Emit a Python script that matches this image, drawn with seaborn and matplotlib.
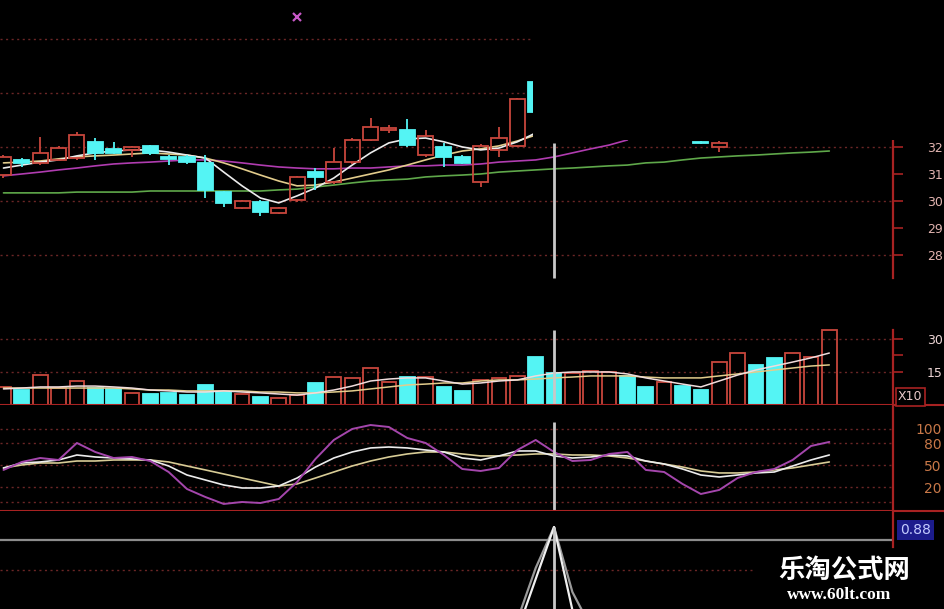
"""
K线 + 成交量 + KDJ 截图复刻 (乐淘公式网)
"""
import numpy as np
import seaborn as sns
import matplotlib.pyplot as plt
from matplotlib.patches import Rectangle

nan = np.nan

# ── 数据 ──
idx = list(range(46))

# K线: 只有露出来的几根 (开, 收, 高, 低)
k_idx = list(range(30)) + [38, 39]
k_open = [30.96, 31.52, 31.41, 31.52, 31.59, 32.19, 31.93, 31.89, 32.04, 31.63,
          31.63, 31.41, 30.33, 29.74, 29.96, 29.56, 30.04, 31.07, 30.70, 31.44,
          32.26, 32.63, 32.63, 31.70, 32.00, 31.63, 30.70, 31.89, 32.04, 34.41,
          32.19, 32.00]
k_close = [31.63, 31.41, 31.78, 31.96, 32.44, 31.78, 31.78, 32.00, 31.78, 31.56,
           31.44, 30.41, 29.93, 30.00, 29.59, 29.74, 30.89, 30.89, 31.44, 32.26,
           32.74, 32.70, 32.07, 32.41, 31.63, 31.41, 32.04, 32.33, 33.78, 33.30,
           32.15, 32.15]
k_high = [31.70, 31.59, 32.37, 32.04, 32.56, 32.33, 32.19, 32.04, 32.07, 31.70,
          31.70, 31.70, 30.37, 30.04, 30.04, 29.78, 30.93, 31.22, 31.96, 32.33,
          33.07, 32.81, 33.04, 32.63, 32.15, 31.70, 32.11, 32.74, 33.81, 34.96,
          32.22, 32.22]
k_low = [30.85, 31.26, 31.33, 31.48, 31.52, 31.52, 31.74, 31.63, 31.70, 31.33,
         31.37, 30.11, 29.78, 29.70, 29.44, 29.52, 29.96, 30.41, 30.63, 31.37,
         32.22, 32.52, 32.00, 31.63, 31.26, 31.37, 30.52, 31.63, 32.00, 33.26,
         32.11, 31.81]

ma5 = [31.22, 31.33, 31.44, 31.52, 31.67, 31.78, 31.85, 31.89, 31.89, 31.81,
       31.70, 31.59, 31.07, 30.56, 30.11, 29.93, 30.19, 30.48, 30.85, 31.33,
       31.78, 32.15, 32.30, 32.33, 32.19, 32.00, 31.89, 31.96, 32.19, 32.52] + [nan] * 16
ma10 = [31.41, 31.44, 31.48, 31.56, 31.63, 31.67, 31.70, 31.74, 31.78, 31.74,
        31.70, 31.59, 31.41, 31.19, 30.96, 30.74, 30.56, 30.59, 30.70, 30.85,
        31.00, 31.15, 31.33, 31.52, 31.70, 31.85, 31.93, 32.04, 32.22, 32.44] + [nan] * 16
ma20 = [30.93, 31.00, 31.07, 31.15, 31.22, 31.30, 31.37, 31.41, 31.44, 31.48,
        31.52, 31.52, 31.48, 31.41, 31.33, 31.26, 31.22, 31.19, 31.19, 31.22,
        31.22, 31.26, 31.30, 31.30, 31.33, 31.33, 31.37, 31.44, 31.48, 31.52,
        31.63, 31.78, 31.93, 32.07, 32.26] + [nan] * 11
ma60 = [30.30, 30.30, 30.30, 30.30, 30.33, 30.33, 30.33, 30.33, 30.37, 30.37,
        30.37, 30.37, 30.37, 30.37, 30.37, 30.41, 30.44, 30.52, 30.59, 30.67,
        30.74, 30.78, 30.81, 30.89, 30.93, 30.96, 31.00, 31.07, 31.11, 31.15,
        31.19, 31.22, 31.26, 31.30, 31.33, 31.41, 31.44, 31.52, 31.59, 31.63,
        31.67, 31.70, 31.74, 31.78, 31.81, 31.85]
price_ticks = [32, 31, 30, 29, 28]
price_grid = [28, 30, 32, 34, 36]
mark_idx, mark_price = 16, 36.81

# 成交量
vol = [8.2, 6.8, 13.6, 7.7, 10.9, 7.7, 7.3, 5.5, 5.0, 5.5,
       4.5, 9.1, 5.9, 5.0, 3.6, 3.2, 4.5, 10.0, 12.7, 12.3,
       16.8, 10.5, 12.7, 12.7, 8.2, 6.4, 11.4, 12.3, 13.2, 21.8,
       14.5, 14.5, 15.5, 15.0, 13.2, 8.2, 10.5, 8.6, 6.8, 19.5,
       23.6, 18.2, 21.4, 23.6, 21.8, 34.1]
vol_up = [1, 0, 1, 1, 1, 0, 0, 1, 0, 0,
          0, 0, 0, 1, 0, 1, 1, 0, 1, 1,
          1, 1, 0, 1, 0, 0, 1, 1, 1, 0,
          0, 1, 1, 1, 0, 0, 1, 0, 0, 1,
          1, 0, 0, 1, 1, 1]
vol_ma5 = [7.3, 7.7, 8.2, 8.2, 8.6, 8.6, 8.2, 7.7, 6.8, 6.4,
           5.9, 5.9, 6.4, 5.9, 5.5, 5.0, 4.5, 5.5, 6.8, 8.6,
           10.9, 11.8, 12.3, 12.3, 10.9, 9.5, 10.0, 10.9, 11.4, 13.2,
           14.5, 15.0, 15.0, 15.0, 14.1, 12.3, 10.9, 9.5, 8.2, 10.9,
           13.6, 15.9, 17.7, 19.5, 21.4, 23.6]
vol_ma10 = [7.7, 7.7, 7.7, 7.7, 7.7, 7.7, 7.7, 7.3, 6.8, 6.8,
            6.4, 6.4, 6.4, 6.4, 5.9, 5.9, 5.5, 5.5, 5.9, 6.4,
            7.3, 8.2, 9.1, 9.5, 10.0, 10.0, 10.9, 11.4, 11.4, 11.8,
            12.3, 12.7, 13.2, 13.2, 13.2, 12.7, 12.3, 12.3, 12.3, 13.2,
            14.1, 15.0, 15.9, 16.8, 17.7, 18.2]
vol_ticks = [15, 22.5, 30]
vol_ticklabels = ["15", "", "30"]

# KDJ
kdj_j = [43.7, 54.6, 60.0, 57.3, 80.5, 68.2, 60.0, 61.4, 55.9, 40.9,
         17.7, 6.8, -2.7, 0.0, -1.4, 4.1, 27.3, 58.7, 84.6, 99.6,
         105.0, 102.3, 87.3, 80.5, 64.1, 45.0, 42.3, 46.4, 70.9, 84.6,
         68.2, 55.9, 57.3, 65.5, 68.2, 43.7, 40.9, 24.6, 10.9, 16.4,
         32.7, 40.9, 45.0, 57.3, 76.4, 81.9]
kdj_k = [46.4, 53.2, 54.6, 57.3, 64.1, 61.4, 60.0, 58.7, 57.3, 49.1,
         36.8, 30.0, 23.2, 19.1, 19.1, 21.8, 32.7, 47.7, 60.0, 68.2,
         73.7, 75.0, 73.7, 70.9, 68.2, 60.0, 57.3, 62.8, 69.6, 69.6,
         62.8, 60.0, 61.4, 64.1, 62.8, 55.9, 51.8, 45.0, 36.8, 34.1,
         36.8, 39.6, 40.9, 49.1, 57.3, 64.1]
kdj_d = [46.4, 50.5, 53.2, 53.2, 55.9, 55.9, 57.3, 57.3, 57.3, 54.6,
         49.1, 43.7, 38.2, 32.7, 27.3, 21.8, 24.6, 32.7, 40.9, 49.1,
         55.9, 61.4, 65.5, 68.2, 68.2, 65.5, 62.8, 62.8, 64.1, 65.5,
         65.5, 64.1, 64.1, 62.8, 60.0, 55.9, 51.8, 47.7, 42.3, 39.6,
         39.6, 40.9, 43.7, 46.4, 50.5, 54.6]
kdj_ticks = [20, 50, 80, 100]
kdj_grid = [0, 20, 50, 80, 100]

# 最下面的指标: 光标处一根尖峰
spike_a = [nan] * 28 + [-0.16, 0.36, 0.88, 0.05, -0.30] + [nan] * 13
spike_b = [nan] * 28 + [-0.05, 0.47, 0.88, 0.23, -0.12] + [nan] * 13
cursor_idx = 30
cursor_value = "0.88"

# ── 颜色 ──
BG = "black"
CYAN = "#54f4f4"
RED = "#c8463c"
AXRED = "#a82222"
GRID = "#6b2626"
WHITE = "#ececec"
TAN = "#e2cc8c"
PURPLE = "#b03cb0"
GREEN = "#5fa84a"
CURSOR = "#c8c8c8"

W, H = 945, 609
XLIM = (-0.19, 48.47)
RIGHT = 893 / W


def box(top_px, bot_px):
    return [0, (H - bot_px) / H, RIGHT, (bot_px - top_px) / H]


def style(ax, ylim):
    ax.set_facecolor(BG)
    ax.set_xlim(*XLIM)
    ax.set_ylim(*ylim)
    for s in ["top", "left", "bottom"]:
        ax.spines[s].set_visible(False)
    ax.spines["right"].set_color(AXRED)
    ax.spines["right"].set_linewidth(1.6)
    ax.yaxis.tick_right()
    ax.set_xticks([])
    ax.set_xlabel("")
    ax.set_ylabel("")


def dotted(ax, levels, x1=None):
    for lv in levels:
        ax.hlines(lv, XLIM[0], XLIM[1] if x1 is None else x1, color=GRID,
                  lw=1.0, linestyle=(0, (1.5, 2.5)), zorder=1)


sns.set_theme(style="dark", rc={"axes.facecolor": BG, "figure.facecolor": BG,
                                "axes.grid": False})
plt.rcParams["font.family"] = ["DejaVu Sans", "Noto Sans CJK SC"]

fig = plt.figure(figsize=(W / 100, H / 100), dpi=100, facecolor=BG)

# ── 主图 K线 ──
ax1 = fig.add_axes(box(0, 285))
style(ax1, (26.89, 37.44))
dotted(ax1, price_grid)
for name, arr, col in [("ma60", ma60, GREEN), ("ma20", ma20, PURPLE),
                       ("ma10", ma10, TAN), ("ma5", ma5, WHITE)]:
    sns.lineplot(x=idx, y=arr, ax=ax1, color=col, linewidth=1.2, zorder=3)

for i, o, c, h, l in zip(k_idx, k_open, k_close, k_high, k_low):
    up = c >= o
    col = RED if up else CYAN
    top, bot = max(o, c), min(o, c)
    ax1.bar(i, max(top - bot, 0.04), bottom=bot, width=0.82,
            color="none" if up else CYAN, edgecolor=col, linewidth=1.3, zorder=4)
    ax1.vlines(i, top, h, color=col, lw=1.3, zorder=4)
    ax1.vlines(i, l, bot, color=col, lw=1.3, zorder=4)

ax1.plot(mark_idx, mark_price, marker="x", color="#c858c8", ms=6, mew=1.6, zorder=5)
ax1.vlines(cursor_idx, 27.15, 32.15, color=CURSOR, lw=2, zorder=5)
ax1.spines["right"].set_bounds(27.15, 32.3)
ax1.set_yticks(price_ticks)
ax1.set_yticklabels([str(t) for t in price_ticks], ha="right")
ax1.set_xlabel("")
ax1.tick_params(axis="y", colors=AXRED, labelcolor="#e2b4b0", length=7,
                width=1.2, pad=29, labelsize=9)

# ── 成交量 ──
ax2 = fig.add_axes(box(285, 405))
style(ax2, (0, 54.5))
dotted(ax2, [15, 30])
ax2.bar(idx, vol, width=0.8,
        color=[("none" if u else CYAN) for u in vol_up],
        edgecolor=[(RED if u else CYAN) for u in vol_up], linewidth=1.3, zorder=3)
sns.lineplot(x=idx, y=vol_ma10, ax=ax2, color=TAN, linewidth=1.1, zorder=4)
sns.lineplot(x=idx, y=vol_ma5, ax=ax2, color="#f0dcdc", linewidth=1.1, zorder=4)
ax2.vlines(cursor_idx, 0, 34, color=CURSOR, lw=2, zorder=5)
ax2.axhline(0, xmin=0, xmax=W / 893, color=AXRED, lw=1.5, clip_on=False, zorder=6)
ax2.spines["right"].set_bounds(0, 34)
ax2.set_yticks(vol_ticks)
ax2.set_yticklabels(vol_ticklabels, ha="right")
ax2.set_xlabel("")
ax2.tick_params(axis="y", colors=AXRED, labelcolor="#ecd4d4", length=7,
                width=1.2, pad=29, labelsize=9)
fig.text(898 / W, (H - 397) / H, "X10", color="#e8c8c8", fontsize=9,
         va="center", ha="left",
         bbox=dict(facecolor=BG, edgecolor=AXRED, lw=1.2, pad=1.5))

# ── KDJ ──
ax3 = fig.add_axes(box(405, 511))
style(ax3, (-12.3, 132.3))
dotted(ax3, kdj_grid)
sns.lineplot(x=idx, y=kdj_d, ax=ax3, color="#d8cc96", linewidth=1.2, zorder=3)
sns.lineplot(x=idx, y=kdj_k, ax=ax3, color=WHITE, linewidth=1.2, zorder=3)
sns.lineplot(x=idx, y=kdj_j, ax=ax3, color="#a446ac", linewidth=1.4, zorder=3)
ax3.vlines(cursor_idx, -12.3, 109, color=CURSOR, lw=2, zorder=5)
ax3.axhline(-12.3, xmin=0, xmax=W / 893, color=AXRED, lw=1.5, clip_on=False, zorder=6)
ax3.set_yticks(kdj_ticks)
ax3.set_yticklabels([str(t) for t in kdj_ticks], ha="right")
ax3.set_xlabel("")
ax3.tick_params(axis="y", length=0, labelcolor="#c87848", pad=35, labelsize=10)

# ── 底部指标 ──
ax4 = fig.add_axes(box(511, 609))
style(ax4, (0.06, 1.04))
ax4.set_yticks([])
ax4.hlines(0.45, XLIM[0], 40.8, color=GRID, lw=1.0, linestyle=(0, (1.5, 2.5)), zorder=1)
ax4.axhline(0.75, color="#8c8c8c", lw=1.6, zorder=2)
sns.lineplot(x=idx, y=spike_b, ax=ax4, color="#9a9a9a", linewidth=1.6, zorder=3)
sns.lineplot(x=idx, y=spike_a, ax=ax4, color="#f0f0f0", linewidth=1.6, zorder=4)
ax4.vlines(cursor_idx, 0.06, 0.88, color=CURSOR, lw=2, zorder=5)
ax4.spines["right"].set_bounds(0.68, 1.04)
ax4.set_xlabel("")
fig.text(900 / W, (H - 530) / H, cursor_value, color="#c4ccff", fontsize=10,
         va="center", ha="left",
         bbox=dict(facecolor="#1c1c8c", edgecolor="none", pad=2))

# 右上角被遮掉的区域
fig.add_artist(Rectangle((533 / W, (H - 140) / H), 1, 1, transform=fig.transFigure,
                         facecolor=BG, edgecolor="none", zorder=10))

# 水印
fig.text(844 / W, (H - 570) / H, "乐淘公式网", color="white", fontsize=19,
         fontweight="bold", family=["Noto Sans CJK SC", "DejaVu Sans"],
         ha="center", va="center", zorder=11)
fig.text(839 / W, (H - 595) / H, "www.60lt.com", color="white", fontsize=12.5,
         fontweight="bold", family=["Liberation Serif", "DejaVu Serif"],
         ha="center", va="center", zorder=11)

plt.savefig("out.png", dpi=100, facecolor=BG)
